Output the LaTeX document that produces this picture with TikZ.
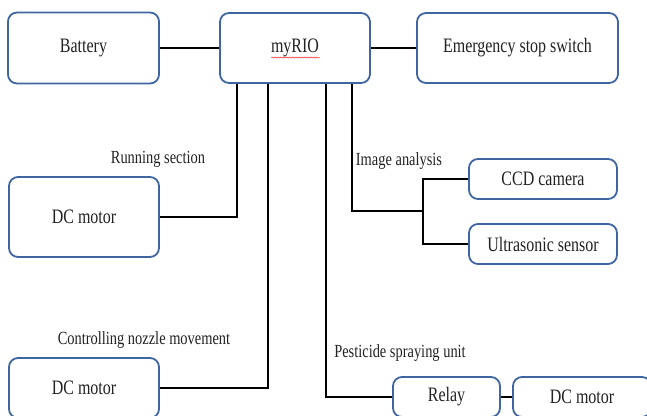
\documentclass[tikz,border=0pt]{standalone}
\usepackage{fontspec}
\setmainfont[FakeStretch=0.78]{Liberation Serif}
\usetikzlibrary{decorations.pathmorphing}
\definecolor{boxblue}{HTML}{3F66A0}
\definecolor{txt}{HTML}{222222}
\begin{document}
\begin{tikzpicture}[x=1pt,y=-1pt,
  blk/.style={draw=boxblue, line width=1.8pt, rounded corners=9pt, fill=white,
    inner sep=0pt, text=txt, font=\fontsize{20.5}{22}\selectfont},
  lbl/.style={inner sep=0pt, text=txt, font=\fontsize{18.5}{20}\selectfont},
  wire/.style={draw=black, line width=2.2pt}]
\useasboundingbox (0,0) rectangle (647,415);
\node[blk, minimum width=151pt, minimum height=71pt] (battery) at (83.5,48) {Battery};
\node[blk, minimum width=150pt, minimum height=70pt] (myrio) at (295,48) {myRIO};
\node[blk, minimum width=201pt, minimum height=70pt] (estop) at (517.5,48) {Emergency stop switch};
\node[blk, minimum width=150pt, minimum height=80pt] (dc1) at (84,217) {DC motor};
\node[blk, minimum width=148pt, minimum height=40pt] (ccd) at (543,179) {CCD camera};
\node[blk, minimum width=148pt, minimum height=40pt] (ultra) at (543,244) {Ultrasonic sensor};
\node[blk, minimum width=150pt, minimum height=60pt] (dc2) at (84,388) {DC motor};
\node[blk, minimum width=107pt, minimum height=40pt] (relay) at (446.5,397) {Relay};
\node[blk, minimum width=138pt, minimum height=40pt] (dc3) at (582,397) {DC motor};

\node[lbl] (lrun) at (158,159) {Running section};
\node[lbl] (limg) at (399,161) {Image analysis};
\node[lbl] (lnoz) at (144,340) {Controlling nozzle movement};
\node[lbl] (lpes) at (400,353) {Pesticide spraying unit};

\coordinate (j) at (423,211);

\draw[wire] (battery.east) -- (myrio.west);
\draw[wire] (myrio.east) -- (estop.west);
\draw[wire] ([xshift=-58pt]myrio.south) |- (dc1.east);
\draw[wire] ([xshift=-27pt]myrio.south) |- (dc2.east);
\draw[wire] ([xshift=31pt]myrio.south) |- (relay.west);
\draw[wire] ([xshift=57pt]myrio.south) |- (j);
\draw[wire] (j) |- (ccd.west);
\draw[wire] (j) |- (ultra.west);
\draw[wire] (relay.east) -- (dc3.west);

\coordinate (u1) at (271,57.5);
\coordinate (u2) at (320,57.5);
\draw[red, line width=0.4pt, decorate, decoration={snake, amplitude=0.6pt, segment length=3pt}] (u1) -- (u2);
\end{tikzpicture}
\end{document}
